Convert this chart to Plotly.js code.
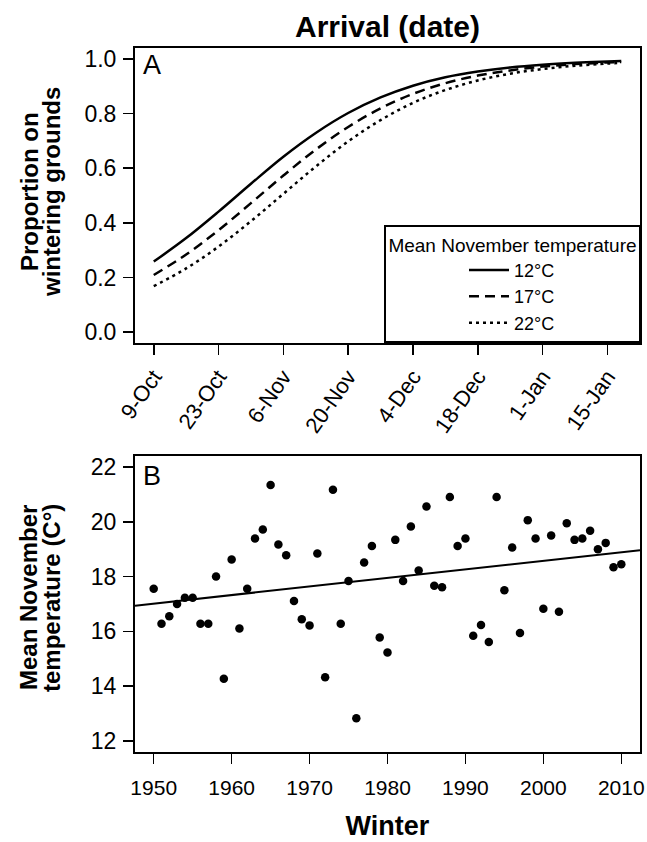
<!DOCTYPE html>
<html>
<head>
<meta charset="utf-8">
<script src="https://cdn.plot.ly/plotly-3.0.1.min.js"></script>
<style>html,body{margin:0;padding:0;background:#fff;}#chart{width:647px;height:842px;}</style>
</head>
<body>
<div id="chart"></div>
<script>
// ---- Panel A: proportion of birds on wintering grounds by arrival date ----
const arrivalDates = ['2000-10-09','2000-10-16','2000-10-23','2000-10-30','2000-11-06','2000-11-13','2000-11-20','2000-11-27','2000-12-04','2000-12-11','2000-12-18','2000-12-25','2001-01-01','2001-01-08','2001-01-15','2001-01-18'];
const prop12C = [0.258,0.344,0.441,0.543,0.642,0.729,0.802,0.859,0.902,0.933,0.954,0.969,0.979,0.986,0.991,0.992];
const prop17C = [0.209,0.284,0.373,0.472,0.573,0.668,0.751,0.819,0.872,0.911,0.939,0.958,0.972,0.981,0.987,0.989];
const prop22C = [0.168,0.233,0.313,0.406,0.506,0.606,0.698,0.776,0.839,0.886,0.921,0.946,0.963,0.975,0.983,0.986];
const seriesNames = ['12°C','17°C','22°C'];
const dateTickVals = ['2000-10-09','2000-10-23','2000-11-06','2000-11-20','2000-12-04','2000-12-18','2001-01-01','2001-01-15'];
const dateTickText = ['9-Oct','23-Oct','6-Nov','20-Nov','4-Dec','18-Dec','1-Jan','15-Jan'];

// ---- Panel B: mean November temperature by winter ----
const winters = [1950,1951,1952,1953,1954,1955,1956,1957,1958,1959,1960,1961,1962,1963,1964,1965,1966,1967,1968,1969,1970,1971,1972,1973,1974,1975,1976,1977,1978,1979,1980,1981,1982,1983,1984,1985,1986,1987,1988,1989,1990,1991,1992,1993,1994,1995,1996,1997,1998,1999,2000,2001,2002,2003,2004,2005,2006,2007,2008,2009,2010];
const novTemp = [17.56,16.28,16.55,17.0,17.23,17.23,16.28,16.28,18.0,14.27,18.62,16.11,17.56,19.39,19.72,21.34,19.17,18.78,17.11,16.44,16.22,18.84,14.33,21.17,16.28,17.84,12.83,18.51,19.12,15.78,15.23,19.34,17.84,19.83,18.22,20.56,17.67,17.61,20.90,19.12,19.39,15.84,16.23,15.61,20.90,17.50,19.06,15.94,20.06,19.39,16.83,19.50,16.72,19.95,19.34,19.39,19.67,19.0,19.23,18.34,18.45];
const trendYears = [1947.6, 2012.4];
const trendTemp = [16.94, 18.96];

const FONT = 'Liberation Sans, Arial, Helvetica, sans-serif';
const W = 647, H = 842;
const px2x = p => p / W;
const px2y = p => 1 - p / H;

const traces = [
  {x: arrivalDates, y: prop12C, name: seriesNames[0], type: 'scatter', mode: 'lines', xaxis: 'x', yaxis: 'y',
   line: {color: '#000', width: 2.5, dash: 'solid', shape: 'spline'}},
  {x: arrivalDates, y: prop17C, name: seriesNames[1], type: 'scatter', mode: 'lines', xaxis: 'x', yaxis: 'y',
   line: {color: '#000', width: 2.5, dash: '10px,6px', shape: 'spline'}},
  {x: arrivalDates, y: prop22C, name: seriesNames[2], type: 'scatter', mode: 'lines', xaxis: 'x', yaxis: 'y',
   line: {color: '#000', width: 2.5, dash: '3px,4px', shape: 'spline'}},
  {x: winters, y: novTemp, type: 'scatter', mode: 'markers', xaxis: 'x2', yaxis: 'y2', showlegend: false,
   marker: {color: '#000', size: 8.5}},
  {x: trendYears, y: trendTemp, type: 'scatter', mode: 'lines', xaxis: 'x2', yaxis: 'y2', showlegend: false,
   line: {color: '#000', width: 2}}
];

const axisCommon = {
  showline: true, mirror: true, linecolor: '#000', linewidth: 2,
  ticks: 'outside', ticklen: 10, tickwidth: 1.5, tickcolor: '#000',
  showgrid: false, zeroline: false, automargin: false,
  tickfont: {family: FONT, size: 21, color: '#000'}
};
const yTickFont = {family: FONT, size: 23, color: '#000'};
const titleFont = {family: FONT, size: 24, color: '#000'};

const xDom = [px2x(135), px2x(640)];

function vTitle(text, xpx, ypx) {
  return {text: '<b>' + text + '</b>', xref: 'paper', yref: 'paper', x: px2x(xpx), y: px2y(ypx),
          xanchor: 'center', yanchor: 'middle', textangle: -90, showarrow: false, font: titleFont};
}

const layout = {
  width: W, height: H,
  margin: {l: 0, r: 0, t: 0, b: 0},
  paper_bgcolor: '#fff', plot_bgcolor: '#fff',
  font: {family: FONT, color: '#000'},
  title: {text: '<b>Arrival (date)</b>', font: {family: FONT, size: 30, color: '#000'},
          x: px2x(387.5), xanchor: 'center', y: px2y(26), yanchor: 'middle', xref: 'paper', yref: 'paper'},
  xaxis: Object.assign({}, axisCommon, {
    domain: xDom, anchor: 'y', type: 'date',
    range: ['2000-10-04 22:48', '2001-01-22 01:12'],
    tickvals: dateTickVals, ticktext: dateTickText, tickangle: -55,
    tickfont: {family: FONT, size: 22, color: '#000'}
  }),
  yaxis: Object.assign({}, axisCommon, {
    domain: [px2y(343), px2y(48)], anchor: 'x',
    range: [-0.04, 1.04], tickvals: [0, 0.2, 0.4, 0.6, 0.8, 1.0], ticktext: ['0.0','0.2','0.4','0.6','0.8','1.0'],
    tickfont: yTickFont, ticklabelstandoff: 2
  }),
  xaxis2: Object.assign({}, axisCommon, {
    domain: xDom, anchor: 'y2',
    range: [1947.6, 2012.4], tickvals: [1950, 1960, 1970, 1980, 1990, 2000, 2010],
    ticklabelstandoff: 6,
    title: {text: '<b>Winter</b>', font: {family: FONT, size: 27, color: '#000'}, standoff: 18}
  }),
  yaxis2: Object.assign({}, axisCommon, {
    domain: [px2y(752), px2y(456)], anchor: 'x2',
    range: [11.6, 22.4], tickvals: [12, 14, 16, 18, 20, 22],
    tickfont: yTickFont, ticklabelstandoff: 2
  }),
  legend: {
    x: px2x(641), xanchor: 'right', y: px2y(343), yanchor: 'bottom', xref: 'paper', yref: 'paper',
    bgcolor: '#fff', bordercolor: '#000', borderwidth: 2,
    font: {family: FONT, size: 18, color: '#000'},
    title: {text: 'Mean November temperature', side: 'top center', font: {family: FONT, size: 19, color: '#000'}},
    indentation: 78, itemwidth: 40, tracegroupgap: 0
  },
  annotations: [
    {text: 'A', xref: 'x domain', yref: 'y domain', x: 0.012, y: 1.0, xanchor: 'left', yanchor: 'top',
     showarrow: false, font: {family: FONT, size: 27, color: '#000'}},
    {text: 'B', xref: 'x2 domain', yref: 'y2 domain', x: 0.012, y: 0.99, xanchor: 'left', yanchor: 'top',
     showarrow: false, font: {family: FONT, size: 27, color: '#000'}},
    vTitle('Proportion on', 30, 192),
    vTitle('wintering grounds', 52, 192),
    vTitle('Mean November', 28, 598),
    vTitle('temperature (C°)', 51, 598)
  ],
  showlegend: true
};

Plotly.newPlot('chart', traces, layout, {staticPlot: true, displayModeBar: false});
</script>
</body>
</html>
